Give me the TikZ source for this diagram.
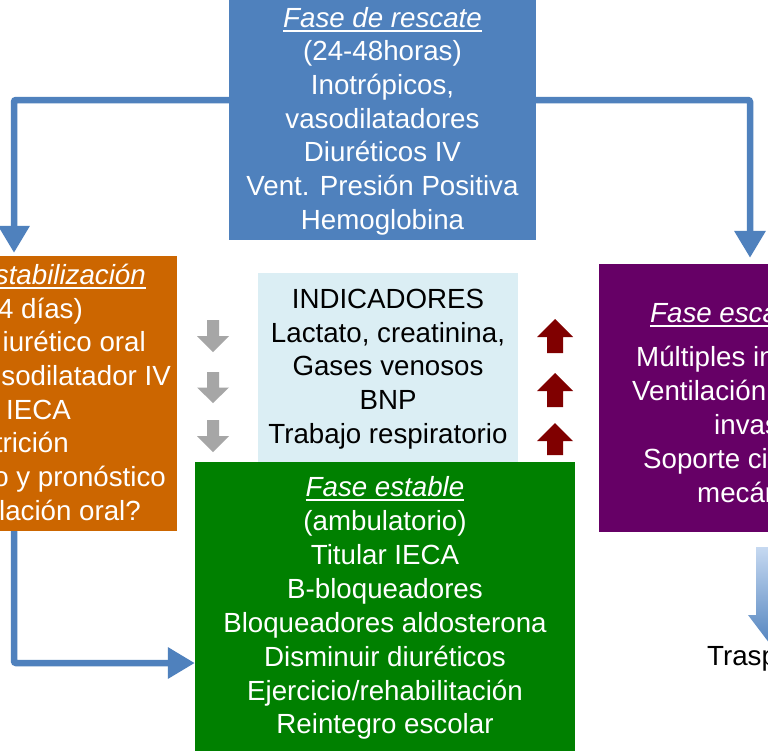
\documentclass[tikz,border=0pt]{standalone}
\usepackage{fontspec}
\setmainfont{Liberation Sans}
\newcommand{\myul}[1]{\leavevmode\vtop{\hbox{#1}\kern3pt\hrule height 1.6pt}}
\usetikzlibrary{arrows.meta}
\definecolor{rescblue}{RGB}{79,129,189}
\definecolor{estorange}{RGB}{204,102,0}
\definecolor{estgreen}{RGB}{0,128,0}
\definecolor{escpurple}{RGB}{102,0,102}
\definecolor{indblue}{RGB}{219,238,244}
\definecolor{downgrey}{RGB}{166,166,166}
\definecolor{upred}{RGB}{128,0,0}
\definecolor{gradtop}{RGB}{198,217,241}
\begin{document}
\begin{tikzpicture}[x=1pt,y=-1pt,
  box/.style={rectangle,inner sep=0pt,draw=none},
  txt/.style={inner sep=0pt,font=\fontsize{27.7}{33.7}\selectfont},
  wtxt/.style={txt,text=white},
  conn/.style={draw=rescblue,line width=6.5pt,rounded corners=2pt,-{Triangle[width=30pt,length=27pt]}},
]
\useasboundingbox (0,0) rectangle (768,750);
\clip (0,0) rectangle (768,750);
\fill[white] (0,0) rectangle (768,750);

% boxes
\node[box,fill=rescblue,minimum width=307pt,minimum height=250pt] (rescate) at (382.5,115) {};
\node[box,fill=estorange,minimum width=377pt,minimum height=275pt] (estab) at (-11.5,393.5) {};
\node[box,fill=escpurple,minimum width=301pt,minimum height=268pt] (escal) at (749.5,398) {};
\node[box,fill=indblue,minimum width=260pt,minimum height=189pt] (indic) at (388,367.5) {};
\node[box,fill=estgreen,minimum width=380pt,minimum height=308pt] (estable) at (385,616) {};

% connectors
\coordinate (ly) at (0,100);
\coordinate (lx) at (14,0);
\coordinate (rx) at (750,0);
\coordinate (by) at (0,663);
\draw[conn,shorten >=3pt] (rescate.west |- ly) -| (lx |- estab.north);
\draw[conn,shorten >=6pt] (rescate.east |- ly) -| (rx |- escal.north);
\draw[conn] (lx |- estab.south) |- (estable.west |- by);

% top box text
\node[wtxt,anchor=base] (r1) at (382.5,27) {\myul{\textit{Fase de rescate}}};
\node[wtxt,anchor=base] (r2) at (382.5,60.5) {(24-48horas)};
\node[wtxt,anchor=base] (r3) at (382.5,94) {Inotrópicos,};
\node[wtxt,anchor=base] (r4) at (382.5,128) {vasodilatadores};
\node[wtxt,anchor=base] (r5) at (382.5,161.5) {Diuréticos IV};
\node[wtxt,anchor=base] (r6) at (382.5,195) {Vent. Presión Positiva};
\node[wtxt,anchor=base] (r7) at (382.5,229) {Hemoglobina};

% left box text (cut at the left edge)
\node[wtxt,anchor=base east] (l1) at (146,284) {\myul{\textit{stabilización}}};
\node[wtxt,anchor=base east] (l2) at (83,318) {4 días)};
\node[wtxt,anchor=base east] (l3) at (146,351) {iurético oral};
\node[wtxt,anchor=base east] (l4) at (171,385) {sodilatador IV};
\node[wtxt,anchor=base east] (l5) at (71,419) {IECA};
\node[wtxt,anchor=base east] (l6) at (69,452) {trición};
\node[wtxt,anchor=base east] (l7) at (166,486) {o y pronóstico};
\node[wtxt,anchor=base east] (l8) at (141,520) {lación oral?};

% right box text (cut at the right edge)
\node[wtxt,anchor=base west] (e1) at (650,322) {\myul{\textit{Fase esca}}};
\node[wtxt,anchor=base west] (e2) at (636,366) {Múltiples in};
\node[wtxt,anchor=base west] (e3) at (632,400) {Ventilación};
\node[wtxt,anchor=base west] (e4) at (714,434) {invas};
\node[wtxt,anchor=base west] (e5) at (643,468) {Soporte ci};
\node[wtxt,anchor=base west] (e6) at (697,502) {mecán};

% indicators text
\node[txt,anchor=base] (i1) at (388,308) {INDICADORES};
\node[txt,anchor=base] (i2) at (388,342) {Lactato, creatinina,};
\node[txt,anchor=base] (i3) at (388,375) {Gases venosos};
\node[txt,anchor=base] (i4) at (388,409) {BNP};
\node[txt,anchor=base] (i5) at (388,443) {Trabajo respiratorio};

% green box text
\node[wtxt,anchor=base] (g1) at (385,496) {\myul{\textit{Fase estable}}};
\node[wtxt,anchor=base] (g2) at (385,530) {(ambulatorio)};
\node[wtxt,anchor=base] (g3) at (385,564) {Titular IECA};
\node[wtxt,anchor=base] (g4) at (385,598) {B-bloqueadores};
\node[wtxt,anchor=base] (g5) at (385,632) {Bloqueadores aldosterona};
\node[wtxt,anchor=base] (g6) at (385,666) {Disminuir diuréticos};
\node[wtxt,anchor=base] (g7) at (385,700) {Ejercicio/rehabilitación};
\node[wtxt,anchor=base] (g8) at (385,733) {Reintegro escolar};

% grey down arrows
\foreach \t/\b in {320/352,372/403,420/452}{
  \fill[downgrey] (207,\t) -- (219,\t) -- (219,{(\t+\b)/2}) -- (229,{(\t+\b)/2})
    -- (213,\b) -- (197,{(\t+\b)/2}) -- (207,{(\t+\b)/2}) -- cycle;
}
% red up arrows
\foreach \t/\b in {319/353,373/407,423/455}{
  \fill[upred] (555,\t) -- (573,\t+18) -- (563,\t+18) -- (563,\b) -- (547,\b)
    -- (547,\t+18) -- (537,\t+18) -- cycle;
}

% gradient arrow bottom right
\shade[top color=gradtop,bottom color=rescblue] (756,547) -- (790,547) -- (790,615)
  -- (798,615) -- (773,648) -- (748,615) -- (756,615) -- cycle;
\node[txt,anchor=base west] (tr) at (707,665) {Trasp};
\end{tikzpicture}
\end{document}
